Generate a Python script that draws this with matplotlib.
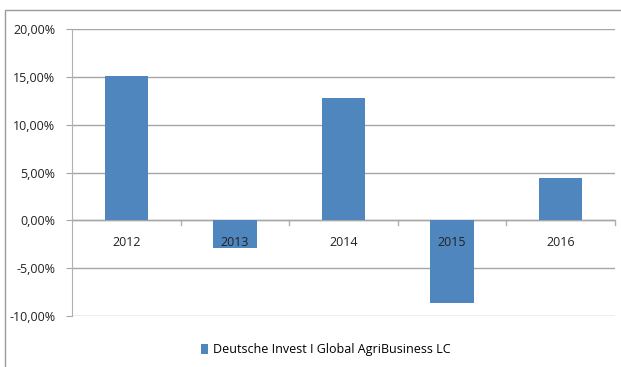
import matplotlib
matplotlib.use("Agg")
import matplotlib.pyplot as plt
from matplotlib.patches import Rectangle
from matplotlib.ticker import FuncFormatter

years = ["2012", "2013", "2014", "2015", "2016"]
returns = [15.1, -2.9, 12.8, -8.6, 4.4]
series_name = "Deutsche Invest I Global AgriBusiness LC"

plt.rcParams["font.family"] = ["Open Sans", "DejaVu Sans"]

fig = plt.figure(figsize=(6.21, 3.67), dpi=100)
ax = fig.add_axes([72 / 621, 1 - 316 / 367, (615 - 72) / 621, (316 - 29) / 367])

# outer chart frame
fig.patches.append(Rectangle((5 / 621, -0.05), 1.1, 1 - 10 / 367 + 0.05,
                             transform=fig.transFigure, fill=False,
                             edgecolor="#9a9a9a", linewidth=1.0))

x = list(range(len(years)))
bars = ax.bar(x, returns, width=0.4, color="#4F86BE", zorder=2,
              label=series_name)

ax.set_xlim(-0.5, len(years) - 0.5)
ax.set_ylim(-10, 20)
ax.set_yticks([-10, -5, 0, 5, 10, 15, 20])
ax.yaxis.set_major_formatter(FuncFormatter(lambda v, p: f"{v:.2f}%".replace(".", ",")))
ax.grid(axis="y", color="#a6a6a6", linewidth=1.0, zorder=0)
ax.tick_params(axis="y", length=4, color="#a6a6a6", labelsize=9,
               labelcolor="#222222", pad=8)

for s in ["top", "right", "bottom"]:
    ax.spines[s].set_visible(False)
ax.spines["left"].set_color("#b0b0b0")

# category axis at zero
ax.axhline(0, color="#a6a6a6", linewidth=1.0, zorder=1)
ax.set_xticks([])
for i in range(1, len(years) + 1):
    ax.plot([i - 0.5, i - 0.5], [0, -0.5], color="#b0b0b0", linewidth=1.0,
            clip_on=False, zorder=1)
for xi, lab in zip(x, years):
    ax.text(xi, -2.3, lab, ha="center", va="center", fontsize=9,
            color="#222222", zorder=3)

leg = fig.legend(handles=[bars], labels=[series_name], loc="center",
                 bbox_to_anchor=(326 / 621, 1 - 350 / 367), frameon=False,
                 fontsize=9, handlelength=0.55, handleheight=0.8,
                 handletextpad=0.4)

fig.savefig("out.png", dpi=100)
